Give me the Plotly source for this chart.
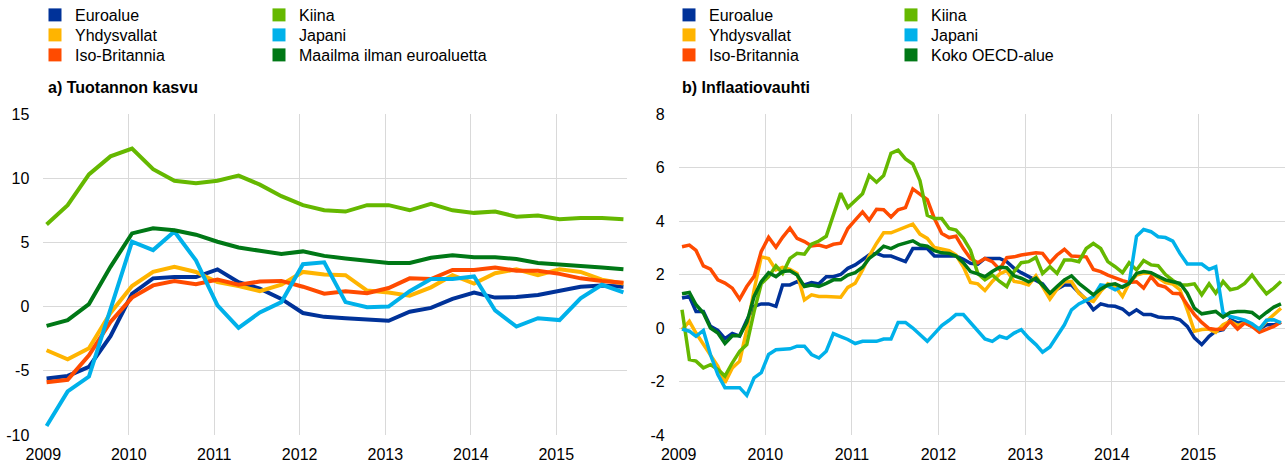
import plotly.graph_objects as go

# ---------------- data ----------------
quarters = [f"{2009 + k // 4}-{1 + 3 * (k % 4):02d}-15" for k in range(28)]
months = [f"{2009 + m // 12}-{m % 12 + 1:02d}-15" for m in range(84)]

year_ticks = [f"{y}-01-01" for y in range(2009, 2016)]
year_labels = [str(y) for y in range(2009, 2016)]
left_yticks = [-10, -5, 0, 5, 10, 15]
left_ylabels = ["-10", "-5", "0", "5", "10", "15"]
right_yticks = [-4, -2, 0, 2, 4, 6, 8]
right_ylabels = ["-4", "-2", "0", "2", "4", "6", "8"]

# a) output growth (quarterly)
gdp_euro = [-5.6, -5.4, -4.7, -2.3, 1.0, 2.2, 2.3, 2.3, 2.9, 1.9, 1.4, 0.6, -0.5, -0.8,
            -0.9, -1.0, -1.1, -0.4, -0.1, 0.6, 1.1, 0.7, 0.75, 0.9, 1.2, 1.55, 1.65, 1.55]
gdp_us = [-3.4, -4.1, -3.25, -0.5, 1.6, 2.7, 3.1, 2.7, 1.9, 1.6, 1.2, 1.7, 2.7, 2.5,
          2.45, 1.25, 1.1, 0.85, 1.5, 2.45, 1.8, 2.6, 2.9, 2.45, 2.9, 2.7, 2.1, 1.8]
gdp_uk = [-5.9, -5.7, -3.8, -1.2, 0.7, 1.65, 2.0, 1.75, 2.1, 1.7, 1.95, 2.0, 1.55, 1.0,
          1.2, 1.05, 1.45, 2.2, 2.15, 2.85, 2.85, 3.05, 2.8, 2.8, 2.55, 2.2, 2.0, 1.85]
gdp_china = [6.4, 7.9, 10.3, 11.7, 12.3, 10.7, 9.8, 9.6, 9.8, 10.2, 9.5, 8.6, 7.9, 7.5,
             7.4, 7.9, 7.9, 7.5, 8.0, 7.5, 7.3, 7.4, 7.0, 7.1, 6.8, 6.9, 6.9, 6.8]
gdp_japan = [-9.3, -6.6, -5.45, -0.2, 5.05, 4.4, 5.85, 3.6, 0.1, -1.65, -0.45, 0.35, 3.3, 3.45,
             0.35, -0.05, 0.0, 1.2, 2.15, 2.15, 2.35, -0.3, -1.55, -0.9, -1.05, 0.65, 1.7, 1.1]
gdp_world = [-1.5, -1.05, 0.2, 3.1, 5.7, 6.1, 5.95, 5.6, 5.05, 4.6, 4.35, 4.1, 4.3, 3.95,
             3.75, 3.55, 3.4, 3.4, 3.8, 4.0, 3.85, 3.85, 3.7, 3.4, 3.3, 3.2, 3.05, 2.9]

# b) inflation (monthly)
inf_euro = [1.12, 1.18, 0.62, 0.62, 0.06, -0.09, -0.4, -0.2, -0.3, 0.29, 0.81, 0.9, 0.9, 0.81,
            1.61, 1.61, 1.73, 1.61, 1.7, 1.65, 1.92, 1.92, 2.0,
            2.23, 2.36, 2.54, 2.73, 2.79, 2.69, 2.69, 2.6, 2.48, 2.97, 2.97, 2.97, 2.69, 2.69,
            2.69, 2.69, 2.57, 2.42, 2.39, 2.6, 2.6, 2.6, 2.48,
            2.23, 2.07, 1.92, 1.77, 1.65, 1.3, 1.45, 1.61, 1.61, 1.33, 1.05, 0.68, 0.9, 0.83,
            0.81, 0.71, 0.5, 0.68, 0.5, 0.5, 0.41, 0.38, 0.38,
            0.31, 0.06, -0.37, -0.62, -0.31, -0.12, -0.06, 0.31, 0.19, 0.21, 0.06, -0.04,
            0.12, 0.12, 0.21]
inf_us = [-0.06, 0.25, -0.19, -0.62, -1.05, -1.43, -2.05, -1.49, -1.24, -0.06, 1.43, 2.66,
          2.6, 2.17, 2.27, 2.19, 2.04, 1.05, 1.24, 1.18, 1.18, 1.18, 1.15,
          1.52, 1.67, 2.17, 2.69, 3.16, 3.56, 3.56, 3.66, 3.78, 3.88, 3.51, 3.35, 3.01, 2.94,
          2.89, 2.73, 2.29, 1.7, 1.65, 1.4, 1.74, 2.02, 2.14,
          1.74, 1.7, 1.61, 1.95, 1.55, 1.08, 1.45, 1.74, 1.74, 1.3, 1.08, 0.99, 1.37, 1.65,
          1.55, 1.18, 1.67, 1.98, 2.05, 2.05, 1.88, 1.7, 1.64,
          1.43, 0.68, -0.12, -0.06, -0.04, -0.16, 0.12, 0.25, 0.09, 0.19, 0.06, -0.04,
          0.25, 0.5, 0.74]
inf_uk = [3.04, 3.1, 2.9, 2.32, 2.2, 1.8, 1.68, 1.49, 1.08, 1.55, 1.93, 2.86, 3.39, 3.02,
          3.39, 3.73, 3.35, 3.23, 3.07, 3.1, 3.02, 3.13, 3.17,
          3.72, 4.03, 4.34, 4.03, 4.44, 4.42, 4.15, 4.42, 4.5, 5.2, 5.02, 4.8, 4.09, 3.53,
          3.38, 3.43, 2.97, 2.6, 2.44, 2.6, 2.48, 2.19, 2.63,
          2.66, 2.73, 2.76, 2.81, 2.79, 2.44, 2.73, 2.94, 2.69, 2.69, 2.66, 2.19, 2.11, 1.98,
          1.86, 1.77, 1.7, 1.73, 1.49, 1.92, 1.61, 1.53, 1.3,
          1.28, 0.87, 0.5, 0.21, -0.02, -0.06, -0.04, 0.25, -0.04, 0.19, 0.06, -0.16,
          -0.06, 0.06, 0.22]
inf_china = [0.68, -1.18, -1.24, -1.49, -1.37, -1.55, -1.8, -1.3, -0.87, -0.62, 0.62, 1.65,
             1.92, 2.32, 2.04, 2.6, 2.79, 2.76, 3.13, 3.25, 3.43, 4.21, 5.04,
             4.5, 4.77, 5.02, 5.7, 5.45, 5.7, 6.53, 6.65, 6.32, 6.13, 5.51, 4.21, 4.09, 4.09,
             3.72, 3.66, 3.35, 2.91, 2.04, 1.8, 1.98, 1.74, 1.55,
             2.11, 2.44, 2.48, 2.64, 2.04, 2.29, 2.04, 2.54, 2.54, 2.48, 2.97, 3.16, 2.97, 2.48,
             2.29, 2.07, 2.44, 2.17, 2.52, 2.36, 2.33, 2.0, 1.78,
             1.61, 1.61, 1.65, 1.24, 1.65, 1.3, 1.74, 1.43, 1.49, 1.67, 1.98, 1.61,
             1.28, 1.49, 1.74]
inf_japan = [-0.04, -0.12, -0.31, -0.09, -1.0, -1.74, -2.23, -2.23, -2.23, -2.52, -1.86, -1.67,
             -0.99, -0.81, -0.81, -0.78, -0.68, -0.68, -0.99, -1.12, -0.87, -0.21, -0.32,
             -0.43, -0.58, -0.5, -0.5, -0.5, -0.41, -0.41, 0.21, 0.21, 0.0, -0.25, -0.5, -0.21,
             0.09, 0.29, 0.5, 0.5, 0.19, -0.12, -0.41, -0.5, -0.31, -0.39,
             -0.19, -0.06, -0.37, -0.62, -0.9, -0.71, -0.31, 0.12, 0.68, 0.9, 1.03, 1.18, 1.61,
             1.57, 1.43, 1.55, 1.67, 3.43, 3.68, 3.6, 3.41, 3.38, 3.25,
             2.79, 2.39, 2.39, 2.39, 2.19, 2.29, 0.56, 0.43, 0.37, 0.29, 0.16, -0.04,
             0.29, 0.31, 0.19]
inf_oecd = [1.28, 1.33, 0.87, 0.56, 0.0, -0.19, -0.58, -0.29, -0.29, 0.21, 1.18, 1.73,
            2.07, 1.92, 2.11, 2.14, 1.98, 1.55, 1.61, 1.55, 1.67, 1.8, 1.8,
            1.98, 2.07, 2.27, 2.6, 2.81, 3.06, 2.97, 3.1, 3.19, 3.26, 3.1, 3.06, 2.89, 2.81,
            2.79, 2.69, 2.44, 2.11, 2.02, 1.92, 2.11, 2.27, 2.25,
            1.95, 1.86, 1.73, 1.86, 1.61, 1.3, 1.55, 1.8, 1.95, 1.67, 1.45, 1.24, 1.45, 1.61,
            1.65, 1.52, 1.67, 2.04, 2.11, 2.07, 1.93, 1.8, 1.73,
            1.67, 1.3, 0.74, 0.53, 0.58, 0.62, 0.41, 0.58, 0.62, 0.62, 0.58, 0.37,
            0.58, 0.78, 0.9]

names_a = ["Euroalue", "Yhdysvallat", "Iso-Britannia", "Kiina", "Japani", "Maailma ilman euroaluetta"]
names_b = ["Euroalue", "Yhdysvallat", "Iso-Britannia", "Kiina", "Japani", "Koko OECD-alue"]
colors = ["#003299", "#FFB400", "#FF4B00", "#65B800", "#00B1EA", "#007816"]

series_a = [gdp_euro, gdp_us, gdp_uk, gdp_china, gdp_japan, gdp_world]
series_b = [inf_euro, inf_us, inf_uk, inf_china, inf_japan, inf_oecd]

# ---------------- layout geometry ----------------
W, H = 1286, 466
FONT = "Liberation Sans, Arial, sans-serif"


def px(x):
    return x / W


def py(y):
    return 1 - y / H


fig = go.Figure()

for name, col, vals in zip(names_a, colors, series_a):
    fig.add_trace(go.Scatter(x=quarters, y=vals, mode="lines", name=name,
                             line=dict(color=col, width=4), showlegend=False,
                             xaxis="x", yaxis="y"))
for name, col, vals in zip(names_b, colors, series_b):
    fig.add_trace(go.Scatter(x=months, y=vals, mode="lines", name=name,
                             line=dict(color=col, width=3.5), showlegend=False,
                             xaxis="x2", yaxis="y2"))

# legend entries (square swatches), one legend per entry for exact placement
legend_layout = {}
col_text_x = {("a", 0): 75, ("a", 1): 299, ("b", 0): 709, ("b", 1): 931}
row_y = [15, 35, 55]
idx = 1
for panel, names in (("a", names_a), ("b", names_b)):
    for i, (name, col) in enumerate(zip(names, colors)):
        c, r = i // 3, i % 3
        key = "legend" if idx == 1 else f"legend{idx}"
        fig.add_trace(go.Scatter(x=[None], y=[None], mode="markers", name=name,
                                 marker=dict(symbol="square", size=13, color=col),
                                 showlegend=True, legend=key,
                                 xaxis="x" if panel == "a" else "x2",
                                 yaxis="y" if panel == "a" else "y2"))
        legend_layout[key] = dict(
            x=px(col_text_x[(panel, c)] - 40), y=py(row_y[r]),
            xanchor="left", yanchor="middle",
            bgcolor="rgba(0,0,0,0)", borderwidth=0,
            font=dict(family=FONT, size=16, color="#000000"),
            itemsizing="trace",
        )
        idx += 1

grid = "#d9d9d9"
axis_common = dict(showgrid=True, gridcolor=grid, gridwidth=1, zeroline=False,
                   showline=False, ticks="", automargin=False,
                   tickfont=dict(family=FONT, size=16, color="#000000"))

fig.update_layout(
    width=W, height=H,
    margin=dict(l=0, r=0, t=0, b=0, autoexpand=False),
    paper_bgcolor="white", plot_bgcolor="white",
    font=dict(family=FONT, size=16, color="#000000"),
    xaxis=dict(domain=[px(43.3), px(626.7)], anchor="y", type="date",
               range=["2009-01-01", "2015-10-29"], tickmode="array",
               tickvals=year_ticks, ticktext=year_labels, ticklabelstandoff=8, **axis_common),
    yaxis=dict(domain=[py(435), py(114)], anchor="x", range=[-10, 15], tickmode="array",
               tickvals=left_yticks, ticktext=left_ylabels, ticklabelstandoff=13, **axis_common),
    xaxis2=dict(domain=[px(678.7), px(1285)], anchor="y2", type="date",
                range=["2009-01-01", "2016-01-01"], tickmode="array",
                tickvals=year_ticks, ticktext=year_labels, ticklabelstandoff=8, **axis_common),
    yaxis2=dict(domain=[py(435), py(114)], anchor="x2", range=[-4, 8], tickmode="array",
                tickvals=right_yticks, ticktext=right_ylabels, ticklabelstandoff=13, **axis_common),
    annotations=[
        dict(text="<b>a) Tuotannon kasvu</b>", x=px(46), y=py(87), xref="paper", yref="paper",
             xanchor="left", yanchor="middle", showarrow=False,
             font=dict(family=FONT, size=16, color="#000000")),
        dict(text="<b>b) Inflaatiovauhti</b>", x=px(680), y=py(87), xref="paper", yref="paper",
             xanchor="left", yanchor="middle", showarrow=False,
             font=dict(family=FONT, size=16, color="#000000")),
    ],
    **legend_layout,
)

fig.write_html("out.html", config={"displayModeBar": False},
               post_script="document.body.style.margin='0px';")
